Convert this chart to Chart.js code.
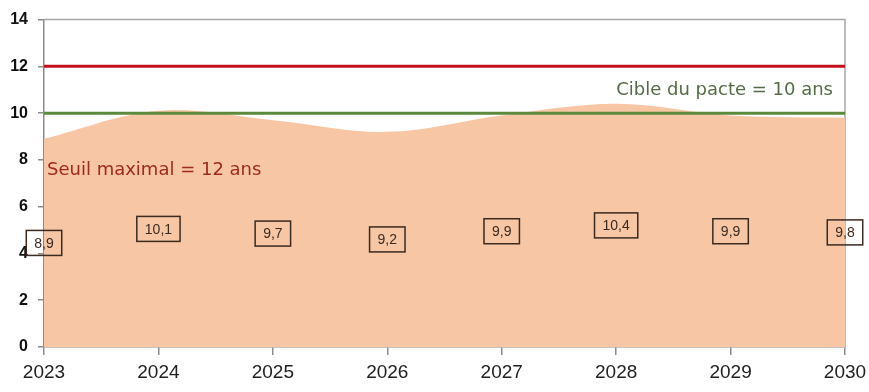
<!DOCTYPE html>
<html>
<head>
<meta charset="utf-8">
<script src="https://cdn.jsdelivr.net/npm/chart.js@4"></script>
<style>
  body { margin: 0; background: #fff; }
  canvas { display: block; }
</style>
</head>
<body>
<canvas id="ageChart" width="869" height="392"></canvas>
<script>
// Age moyen du parc, 2023-2030
const years = ['2023', '2024', '2025', '2026', '2027', '2028', '2029', '2030'];
const ageMoyen = [8.9, 10.1, 9.7, 9.2, 9.9, 10.4, 9.9, 9.8];
const seuilMaximal = 12;
const ciblePacte = 10;
const seuilLabel = 'Seuil maximal = 12 ans';
const cibleLabel = 'Cible du pacte = 10 ans';

const axisGrey = '#8c8c8c';

// gray frame on top and right of the plot area
const framePlugin = {
    id: 'frame',
    beforeDatasetsDraw(chart) {
        const { ctx, chartArea: a } = chart;
        ctx.save();
        ctx.strokeStyle = '#a6a6a6';
        ctx.lineWidth = 1.5;
        ctx.beginPath();
        ctx.moveTo(a.left, a.top);
        ctx.lineTo(a.right, a.top);
        ctx.lineTo(a.right, a.bottom);
        ctx.stroke();
        ctx.restore();
    }
};

// boxed value labels, centred halfway up the area
const boxLabels = {
    id: 'boxLabels',
    afterDatasetsDraw(chart) {
        const { ctx, scales } = chart;
        ctx.save();
        ctx.font = '14px "Liberation Sans", sans-serif';
        ctx.textAlign = 'center';
        ctx.textBaseline = 'middle';
        ageMoyen.forEach((v, i) => {
            const x = scales.x.getPixelForValue(i);
            const y = scales.y.getPixelForValue(v / 2);
            const txt = v.toFixed(1).replace('.', ',');
            const w = ctx.measureText(txt).width + 16;
            const h = 25;
            ctx.strokeStyle = '#3b2a20';
            ctx.lineWidth = 1.5;
            ctx.strokeRect(x - w / 2, y - h / 2, w, h);
            ctx.fillStyle = '#3b2a20';
            ctx.fillText(txt, x, y + 1);
        });

        // threshold captions
        ctx.font = '18px "DejaVu Sans", sans-serif';
        ctx.textBaseline = 'middle';
        ctx.textAlign = 'left';
        ctx.fillStyle = '#9e2a1e';
        ctx.fillText(seuilLabel, chart.chartArea.left + 3, scales.y.getPixelForValue(7.55));
        ctx.textAlign = 'right';
        ctx.fillStyle = '#566b47';
        ctx.fillText(cibleLabel, chart.chartArea.right - 12, scales.y.getPixelForValue(10.98));
        ctx.restore();
    }
};

const canvas = document.getElementById('ageChart');
const ctx = canvas.getContext('2d');

new Chart(ctx, {
    type: 'line',
    data: {
        labels: years,
        datasets: [
            {
                label: 'Seuil',
                data: years.map(() => seuilMaximal),
                borderColor: '#c4121c',
                borderWidth: 3,
                pointRadius: 0,
                fill: false,
                order: 0
            },
            {
                label: 'Cible',
                data: years.map(() => ciblePacte),
                borderColor: '#5b8a3c',
                borderWidth: 3,
                pointRadius: 0,
                fill: false,
                order: 1
            },
            {
                label: 'Age moyen',
                data: ageMoyen,
                backgroundColor: '#f7c6a4',
                borderWidth: 0,
                borderColor: 'rgba(0,0,0,0)',
                pointRadius: 0,
                tension: 0.35,
                fill: 'origin',
                order: 2
            }
        ]
    },
    options: {
        responsive: false,
        animation: false,
        layout: { padding: { top: 19, right: 24, left: 0, bottom: 0 } },
        plugins: {
            legend: { display: false },
            tooltip: { enabled: false }
        },
        scales: {
            x: {
                offset: false,
                afterFit(scale) {
                    scale.height = 45;
                    scale.paddingLeft = 0;
                    scale.paddingRight = 0;
                },
                grid: {
                    drawOnChartArea: false,
                    tickLength: 8,
                    color: axisGrey,
                    lineWidth: 1.5
                },
                border: { display: true, color: axisGrey, width: 1.5 },
                ticks: {
                    color: '#222',
                    padding: 6,
                    maxRotation: 0,
                    font: { size: 19, family: '"Liberation Sans", sans-serif' }
                }
            },
            y: {
                min: 0,
                max: 14,
                afterFit(scale) { scale.width = 44; },
                grid: {
                    drawOnChartArea: false,
                    tickLength: 6,
                    color: axisGrey,
                    lineWidth: 1.5
                },
                border: { display: true, color: axisGrey, width: 1.5 },
                ticks: {
                    stepSize: 2,
                    color: '#111',
                    padding: 10,
                    font: { size: 16, weight: 'bold', family: '"Liberation Sans", sans-serif' }
                }
            }
        }
    },
    plugins: [framePlugin, boxLabels]
});
</script>
</body>
</html>
